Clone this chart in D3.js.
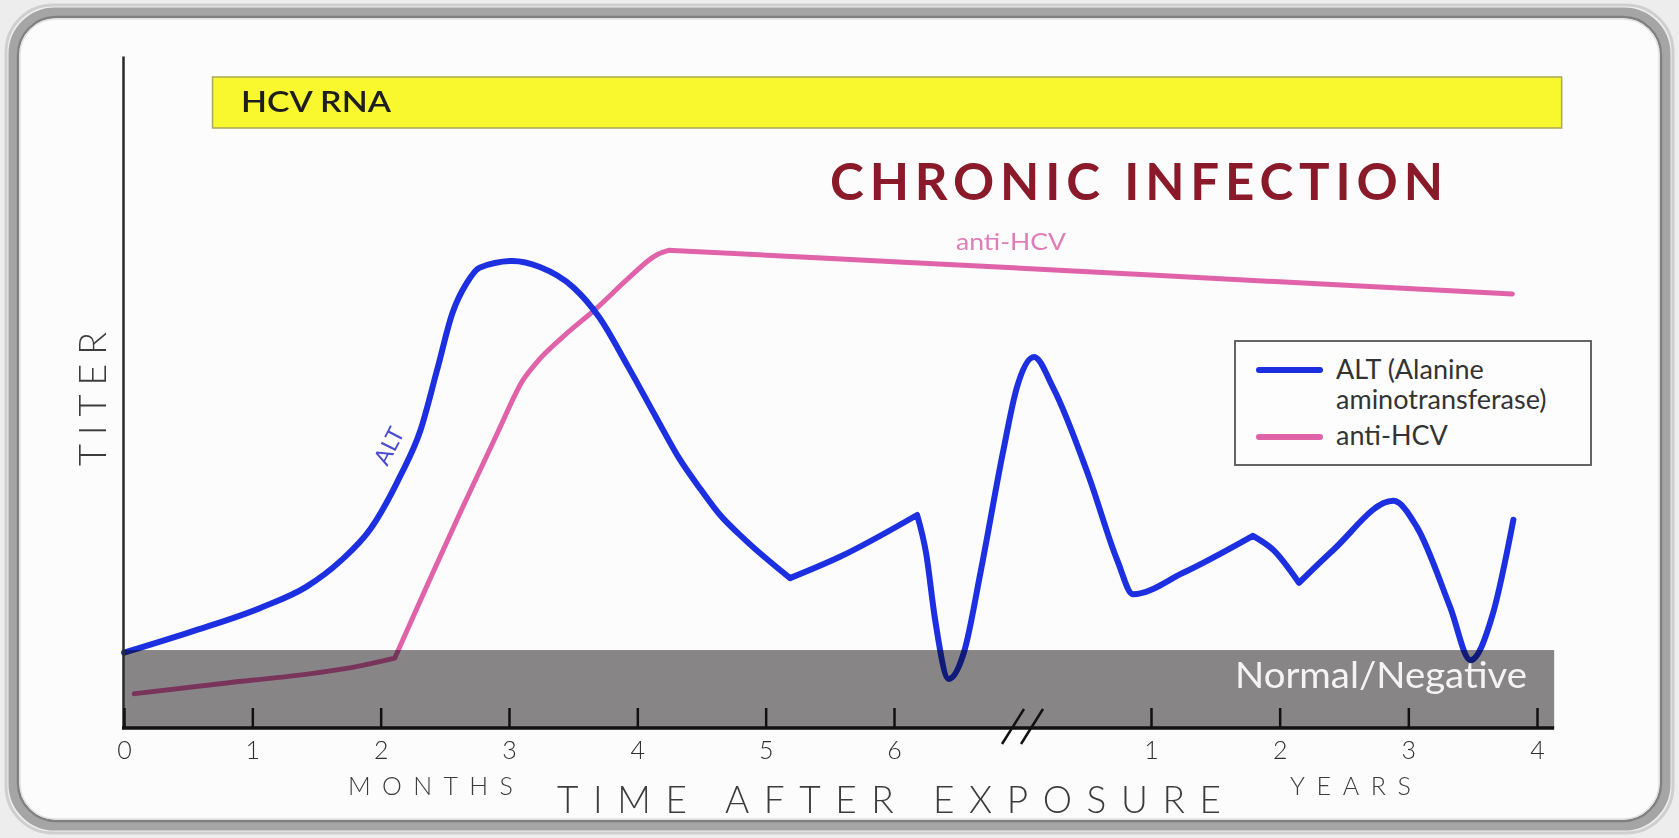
<!DOCTYPE html>
<html>
<head>
<meta charset="utf-8">
<script src="https://cdn.jsdelivr.net/npm/d3@7"></script>
<style>
  html, body { margin: 0; padding: 0; background: #ededed; }
  svg { display: block; }
  text { font-family: Lato, "Open Sans", "Noto Sans", sans-serif; }
</style>
</head>
<body>
<svg id="chart" width="1679" height="838"></svg>
<script>
// Time is measured in months since exposure; after the axis break, years are 12·n months.
const altMonths = [0, 0.52, 1.08, 1.42, 1.69, 1.92, 2.15, 2.31, 2.44, 2.56, 2.67, 2.77, 3.03, 3.24, 3.50,
  3.70, 3.93, 4.15, 4.33, 4.49, 4.64, 4.84, 5.19, 5.57, 6.54, 6.75, 6.96, 7.28, 7.63, 8.03, 8.54,
  8.87, 9.27, 9.71, 10.55, 11.21, 11.58, 15.0, 21.5, 23.4, 25.8, 29.0, 34.6, 36.8, 39.9, 41.8, 43.9, 45.8];
const altTiter = [11.2, 14.3, 18.0, 21.0, 24.9, 29.6, 37.4, 44.3, 53.3, 61.8, 66.2, 68.5, 69.5, 68.6, 65.6,
  61.2, 53.7, 46.1, 40.0, 35.6, 31.8, 28.0, 22.3, 25.4, 31.7, 26.0, 16.1, 7.3, 11.2, 23.5, 40.9,
  50.7, 55.2, 50.7, 37.4, 25.0, 19.9, 23.1, 28.6, 26.5, 21.6, 26.5, 33.8, 29.9, 18.0, 10.1, 17.1, 31.0];
const altCorners = [5.19, 6.54, 21.5, 25.8];   // abrupt turns in the ALT trace

const antiMonths = [0.08, 0.80, 1.50, 1.80, 2.11, 2.38, 2.64, 2.91, 3.11, 3.22, 3.42, 3.69, 3.94, 4.15,
  4.25, 6, 12, 24, 45.7];
const antiTiter  = [5.1, 6.7, 8.2, 9.1, 10.4, 22.0, 32.9, 43.9, 51.8, 54.5, 58.2, 62.6, 67.1, 70.4,
  71.1, 69.4, 67.4, 66.4, 64.6];
const antiCorners = [2.11, 4.25];  // seroconversion onset and plateau

const monthTicks = [0, 1, 2, 3, 4, 5, 6];
const yearTicks = [1, 2, 3, 4];
const normalUpper = 11.6;      // upper titer of the normal / negative range
const rnaSpan = [0.69, 50.3];  // months over which HCV RNA stays detectable
const axisEnd = 49.6;          // months, right end of the time axis
const breakAt = 9;             // months, position of the axis break

const svg = d3.select("#chart");

// ----- rounded metallic frame -----
svg.append("rect").attr("x", 6).attr("y", 5).attr("width", 1667).attr("height", 828)
  .attr("rx", 47).attr("fill", "none").attr("stroke", "#cfcfcf").attr("stroke-width", 3);
svg.append("rect").attr("x", 13).attr("y", 12).attr("width", 1653).attr("height", 814)
  .attr("rx", 42).attr("fill", "#fcfcfc").attr("stroke", "#a5a5a5").attr("stroke-width", 9);
svg.append("rect").attr("x", 18).attr("y", 17).attr("width", 1643).attr("height", 804)
  .attr("rx", 38).attr("fill", "none").attr("stroke", "#808080").attr("stroke-width", 2.5);
svg.append("rect").attr("x", 20).attr("y", 19).attr("width", 1639).attr("height", 800)
  .attr("rx", 36).attr("fill", "#fcfcfc").attr("stroke", "#e2e2e2").attr("stroke-width", 1.5);

// ----- scales -----
const x = d3.scaleLinear().domain([0, 6, 12, 48]).range([124, 894, 1151, 1537]);
const y = d3.scaleLinear().domain([0, 100]).range([728, 56]);

// ----- HCV RNA bar -----
svg.append("rect")
  .attr("x", x(rnaSpan[0])).attr("y", 77)
  .attr("width", x(rnaSpan[1]) - x(rnaSpan[0])).attr("height", 51)
  .attr("fill", "#f9f82e").attr("stroke", "#a9a95a").attr("stroke-width", 1.5);
svg.append("text").attr("x", 241).attr("y", 112)
  .attr("font-size", 28).attr("font-weight", 600).attr("fill", "#1e1e1e")
  .attr("textLength", 150).attr("lengthAdjust", "spacingAndGlyphs")
  .text("HCV RNA");

// ----- title -----
svg.append("text").attr("x", 830).attr("y", 200)
  .attr("font-size", 51).attr("font-weight", 700).attr("fill", "#8a1a2a")
  .attr("textLength", 613).attr("lengthAdjust", "spacing")
  .text("CHRONIC INFECTION");

// ----- curves -----
// Each trace is smooth (monotone in x) between its abrupt turns, which stay sharp.
const line = d3.line()
  .x(d => x(d[0])).y(d => y(d[1]))
  .curve(d3.curveMonotoneX);

function tracePath(months, titer, corners) {
  const pts = months.map((m, i) => [m, titer[i]]);
  const pieces = [];
  let cur = [];
  pts.forEach(p => {
    cur.push(p);
    if (corners.includes(p[0]) && cur.length > 1) { pieces.push(cur); cur = [p]; }
  });
  if (cur.length > 1) pieces.push(cur);
  return pieces.map((p, i) => { const s = line(p); return i ? s.replace(/^M/, "L") : s; }).join("");
}

svg.append("path").attr("d", tracePath(antiMonths, antiTiter, antiCorners))
  .attr("fill", "none").attr("stroke", "#e062a9").attr("stroke-width", 5)
  .attr("stroke-linejoin", "round").attr("stroke-linecap", "round");

svg.append("path").attr("d", tracePath(altMonths, altTiter, altCorners))
  .attr("fill", "none").attr("stroke", "#1c30e2").attr("stroke-width", 6)
  .attr("stroke-linejoin", "round").attr("stroke-linecap", "round");

// curve labels
svg.append("text").attr("x", 956).attr("y", 250)
  .attr("font-size", 23).attr("fill", "#e27cb9")
  .attr("textLength", 110).attr("lengthAdjust", "spacingAndGlyphs")
  .text("anti-HCV");
svg.append("text")
  .attr("transform", "translate(389,446) rotate(-63)")
  .attr("text-anchor", "middle").attr("dy", "0.35em")
  .attr("font-size", 23).attr("fill", "#4a4ad0")
  .text("ALT");

// ----- normal / negative band (multiplied over the curves) -----
svg.append("rect")
  .attr("x", x(0)).attr("y", y(normalUpper))
  .attr("width", x(axisEnd) - x(0)).attr("height", y(0) - y(normalUpper))
  .attr("fill", "#8a8789").style("mix-blend-mode", "multiply");
svg.append("text").attr("x", 1235).attr("y", 688)
  .attr("font-size", 36).attr("fill", "#f4f4f4")
  .attr("textLength", 292).attr("lengthAdjust", "spacingAndGlyphs")
  .text("Normal/Negative");

// ----- axes -----
const yAxis = d3.axisLeft(y).tickValues([]).tickSizeOuter(0);
const yg = svg.append("g").attr("transform", `translate(${x(0) - 1},0)`).call(yAxis);
yg.select(".domain").attr("stroke", "#2a2a2a").attr("stroke-width", 2.5);

const xAxis = d3.axisBottom(x)
  .tickValues([...monthTicks, ...yearTicks.map(v => v * 12)])
  .tickSize(-20).tickSizeOuter(0).tickPadding(13)
  .tickFormat(d => d <= 6 ? d : d / 12);
const xg = svg.append("g").attr("transform", `translate(0,${y(0)})`).call(xAxis);
xg.select(".domain").remove();
xg.selectAll(".tick line").attr("stroke", "#111").attr("stroke-width", 2.5);
xg.selectAll(".tick text").attr("font-size", 25).attr("font-weight", 300)
  .attr("fill", "#2e2e2e").attr("font-family", "Lato, sans-serif");
xg.append("line").attr("x1", x(0) - 2).attr("x2", x(axisEnd))
  .attr("y1", 0).attr("y2", 0).attr("stroke", "#111").attr("stroke-width", 3.5);

// axis break marks
[-9.5, 9.5].forEach(off => {
  const cx = x(breakAt) + off;
  xg.append("line")
    .attr("x1", cx - 11).attr("y1", 16).attr("x2", cx + 11).attr("y2", -19)
    .attr("stroke", "#111").attr("stroke-width", 2.5);
});

// axis titles
svg.append("text").attr("x", 348).attr("y", 795)
  .attr("font-size", 25).attr("font-weight", 300).attr("fill", "#3c3c3c")
  .attr("textLength", 165).attr("lengthAdjust", "spacing").text("MONTHS");
svg.append("text").attr("x", 1290).attr("y", 795)
  .attr("font-size", 25).attr("font-weight", 300).attr("fill", "#3c3c3c")
  .attr("textLength", 121).attr("lengthAdjust", "spacing").text("YEARS");
svg.append("text").attr("x", 557).attr("y", 813)
  .attr("font-size", 37).attr("font-weight", 300).attr("fill", "#3c3c3c")
  .attr("textLength", 664).attr("lengthAdjust", "spacing").text("TIME AFTER EXPOSURE");
svg.append("text")
  .attr("transform", "translate(106,466) rotate(-90)")
  .attr("font-size", 38).attr("font-weight", 300).attr("fill", "#3c3c3c")
  .attr("textLength", 134).attr("lengthAdjust", "spacing").text("TITER");

// ----- legend -----
const lg = svg.append("g");
lg.append("rect").attr("x", 1235).attr("y", 341).attr("width", 356).attr("height", 124)
  .attr("fill", "#fdfdfd").attr("stroke", "#555").attr("stroke-width", 1.8);
lg.append("line").attr("x1", 1259).attr("x2", 1320).attr("y1", 370).attr("y2", 370)
  .attr("stroke", "#1c30e2").attr("stroke-width", 6).attr("stroke-linecap", "round");
lg.append("line").attr("x1", 1259).attr("x2", 1320).attr("y1", 437).attr("y2", 437)
  .attr("stroke", "#e062a9").attr("stroke-width", 6).attr("stroke-linecap", "round");
const legendRows = [["ALT (Alanine", 379], ["aminotransferase)", 409], ["anti-HCV", 445]];
legendRows.forEach(([label, baseline]) => {
  lg.append("text").attr("x", 1336).attr("y", baseline)
    .attr("font-size", 27).attr("fill", "#333").text(label);
});
</script>
</body>
</html>
